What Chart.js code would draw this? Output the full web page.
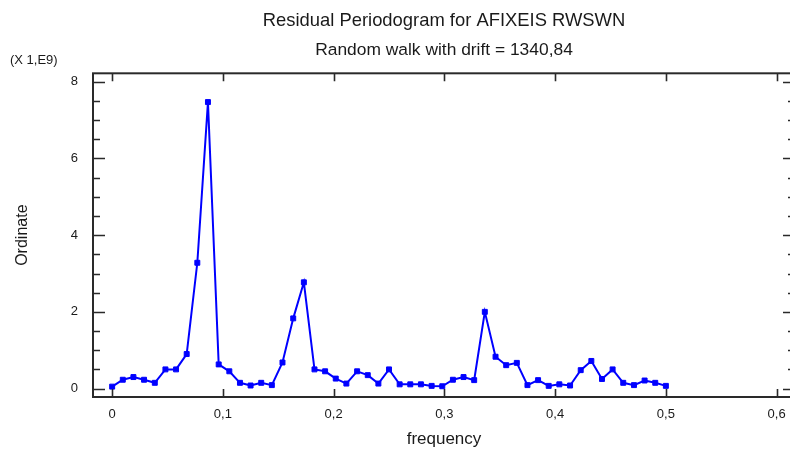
<!DOCTYPE html>
<html>
<head>
<meta charset="utf-8">
<script src="https://cdn.jsdelivr.net/npm/chart.js@4/dist/chart.umd.min.js"></script>
<style>
html,body{margin:0;padding:0;overflow:hidden;background:#fff;}
#wrap{width:800px;height:453px;}
</style>
</head>
<body>
<div id="wrap"><canvas id="c" width="800" height="453"></canvas></div>
<script>
// ---- data ----
const titleText = 'Residual Periodogram for AFIXEIS RWSWN';
const subtitleText = 'Random walk with drift = 1340,84';
const scaleNote = '(X 1,E9)';
const xTitle = 'frequency';
const yTitle = 'Ordinate';
const frequencies = [0, 0.0096, 0.0192, 0.0288, 0.0385, 0.0481, 0.0577, 0.0673, 0.0769, 0.0865,
  0.0962, 0.1058, 0.1154, 0.125, 0.1346, 0.1442, 0.1538, 0.1635, 0.1731, 0.1827,
  0.1923, 0.2019, 0.2115, 0.2212, 0.2308, 0.2404, 0.25, 0.2596, 0.2692, 0.2788,
  0.2885, 0.2981, 0.3077, 0.3173, 0.3269, 0.3365, 0.3462, 0.3558, 0.3654, 0.375,
  0.3846, 0.3942, 0.4038, 0.4135, 0.4231, 0.4327, 0.4423, 0.4519, 0.4615, 0.4712,
  0.4808, 0.4904, 0.5];
const ordinate = [0.05, 0.23, 0.30, 0.23, 0.15, 0.50, 0.50, 0.90, 3.28, 7.47,
  0.63, 0.45, 0.15, 0.08, 0.15, 0.09, 0.68, 1.83, 2.77, 0.50,
  0.45, 0.26, 0.13, 0.45, 0.35, 0.13, 0.50, 0.11, 0.11, 0.11,
  0.07, 0.06, 0.23, 0.30, 0.22, 2.00, 0.83, 0.61, 0.67, 0.09,
  0.22, 0.07, 0.11, 0.08, 0.48, 0.72, 0.25, 0.50, 0.15, 0.09,
  0.21, 0.15, 0.07];
const xTickStep = 0.1;
const yTickStep = 2;
const yMinorStep = 0.5;

const points = frequencies.map((f, i) => ({x: f, y: ordinate[i]}));
const FONT = "'Liberation Sans', Arial, sans-serif";
const INK = '#1a1a1a';

const framePlugin = {
  id: 'frame',
  afterDatasetsDraw(chart) {
    const {ctx, chartArea: a, scales: {x, y}} = chart;
    ctx.save();
    ctx.strokeStyle = '#2a2a2a';
    ctx.lineWidth = 1.6;
    ctx.beginPath();
    x.ticks.forEach(t => {
      const px = Math.round(x.getPixelForValue(t.value)) + 0.5;
      ctx.moveTo(px, a.bottom); ctx.lineTo(px, a.bottom - 8);
      ctx.moveTo(px, a.top); ctx.lineTo(px, a.top + 8);
    });
    y.ticks.forEach(t => {
      const py = Math.round(y.getPixelForValue(t.value)) + 0.5;
      ctx.moveTo(a.left, py); ctx.lineTo(a.left + 12, py);
      ctx.moveTo(a.right, py); ctx.lineTo(a.right - 12, py);
    });
    for (let v = 0; v <= y.max; v += yMinorStep) {
      if (Math.abs(v / yTickStep - Math.round(v / yTickStep)) < 1e-6) continue;
      const py = Math.round(y.getPixelForValue(v)) + 0.5;
      ctx.moveTo(a.left, py); ctx.lineTo(a.left + 7, py);
      ctx.moveTo(a.right, py); ctx.lineTo(a.right - 7, py);
    }
    ctx.stroke();
    ctx.lineWidth = 2;
    ctx.strokeRect(a.left, a.top, a.right - a.left, a.bottom - a.top);
    ctx.fillStyle = INK;
    ctx.font = '13px ' + FONT;
    ctx.textAlign = 'left';
    ctx.textBaseline = 'middle';
    ctx.fillText(scaleNote, 10, 60);
    ctx.restore();
  }
};

new Chart(document.getElementById('c'), {
  type: 'scatter',
  data: {
    datasets: [{
      data: points,
      showLine: true,
      borderColor: '#0000ff',
      backgroundColor: '#0000ff',
      borderWidth: 2,
      pointStyle: 'rect',
      pointRadius: 3.5,
      pointBorderWidth: 1,
      tension: 0
    }]
  },
  options: {
    responsive: false,
    animation: false,
    layout: {padding: {left: 0, right: 5, top: 0, bottom: 0}},
    plugins: {
      legend: {display: false},
      tooltip: {enabled: false},
      title: {
        display: true, text: titleText, fullSize: false, color: INK,
        font: {family: FONT, size: 18.4, weight: 'normal'},
        padding: {top: 10, bottom: 0}
      },
      subtitle: {
        display: true, text: subtitleText, fullSize: false, color: INK,
        font: {family: FONT, size: 17.4, weight: 'normal'},
        padding: {top: 7.5, bottom: 12.85}
      }
    },
    scales: {
      x: {
        type: 'linear',
        min: -0.0173, max: 0.6166,
        afterFit(s) { s.height = 56; },
        grid: {display: false, drawTicks: false},
        border: {display: false},
        ticks: {
          stepSize: xTickStep, includeBounds: false, padding: 10, color: INK,
          font: {family: FONT, size: 13},
          maxRotation: 0,
          callback: v => Math.abs(v) < 1e-9 ? '0' : v.toFixed(1).replace('.', ',')
        },
        title: {display: true, text: xTitle, color: INK,
          font: {family: FONT, size: 17}, padding: {top: 0, bottom: 3}}
      },
      y: {
        type: 'linear',
        min: -0.22, max: 8.22,
        afterFit(s) { s.width = 93; },
        grid: {display: false, drawTicks: false},
        border: {display: false},
        ticks: {
          stepSize: yTickStep, includeBounds: false, padding: 15, color: INK,
          font: {family: FONT, size: 13},
          callback: v => String(Math.round(v))
        },
        title: {display: true, text: yTitle, color: INK,
          font: {family: FONT, size: 16}, padding: {top: 13, bottom: 0}}
      }
    }
  },
  plugins: [framePlugin]
});
</script>
</body>
</html>
